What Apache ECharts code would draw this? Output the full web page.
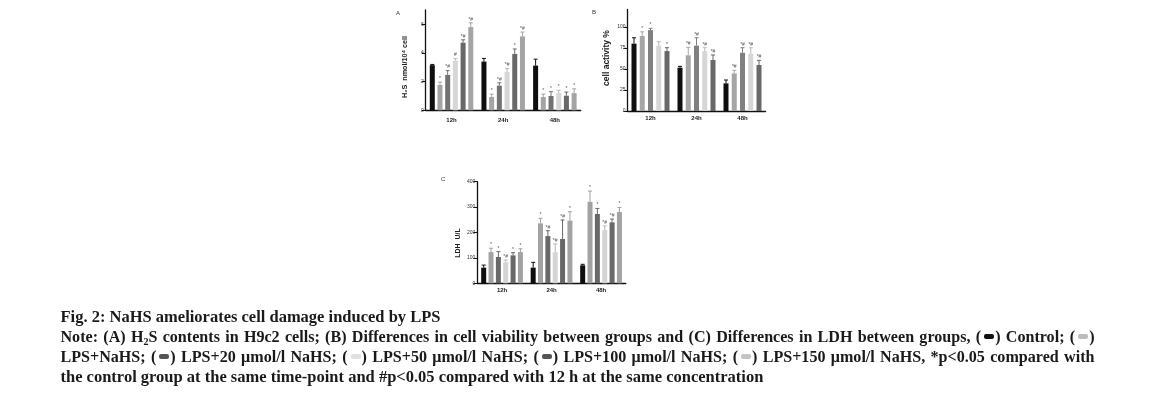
<!DOCTYPE html>
<html>
<head>
<meta charset="utf-8">
<script src="https://cdn.jsdelivr.net/npm/echarts@6/dist/echarts.min.js"></script>
<style>
  html, body { margin: 0; padding: 0; background: #fff; }
  #chart { position: absolute; left: 0; top: 0; width: 1152px; height: 394px; }
  #caption { position: absolute; left: 60.5px; top: 306.5px; width: 1034px;
    font-family: "Liberation Serif", "Times New Roman", serif; font-weight: bold;
    font-size: 16.5px; line-height: 20px; color: #1a1a1a; }
  #caption .ln { white-space: nowrap; height: 20px; }
  #caption .just { text-align: justify; text-align-last: justify; white-space: normal; font-size: 16.1px; }
  #caption sub { font-size: 10px; vertical-align: -3px; line-height: 0; }
  .sw { display: inline-block; width: 10px; height: 5px; border-radius: 2px; vertical-align: 3px; margin: 0 1px 0 3px; }
</style>
</head>
<body>
<div id="chart"></div>
<div id="caption">
  <div class="ln">Fig. 2: NaHS ameliorates cell damage induced by LPS</div>
  <div class="ln just">Note: (A) H<sub>2</sub>S contents in H9c2 cells; (B) Differences in cell viability between groups and (C) Differences in LDH between groups, (<span class="sw" style="background:#111"></span>) Control; (<span class="sw" style="background:#bdbdbd"></span>)</div>
  <div class="ln just">LPS+NaHS; (<span class="sw" style="background:#555"></span>) LPS+20 μmol/l NaHS; (<span class="sw" style="background:#e0e0e0"></span>) LPS+50 μmol/l NaHS; (<span class="sw" style="background:#555"></span>) LPS+100 μmol/l NaHS; (<span class="sw" style="background:#c4c4c4"></span>) LPS+150 μmol/l NaHS, *p&lt;0.05 compared with</div>
  <div class="ln">the control group at the same time-point and #p&lt;0.05 compared with 12 h at the same concentration</div>
</div>
<script>
// ---------- data ----------
const categories = ['12h', '24h', '48h'];
const seriesNames = ['Control', 'LPS+NaHS', 'LPS+20 μmol/l NaHS', 'LPS+50 μmol/l NaHS', 'LPS+100 μmol/l NaHS', 'LPS+150 μmol/l NaHS'];

// Panel A: H2S nmol/10^4 cell
const aControl = [3.15, 3.40, 3.12];   const aControlErr = [0.05, 0.22, 0.45];
const aNaHS    = [1.77, 0.93, 0.93];   const aNaHSErr    = [0.20, 0.20, 0.20];
const a20      = [2.47, 1.72, 1.00];   const a20Err      = [0.30, 0.20, 0.30];
const a50      = [3.47, 2.67, 1.20];   const a50Err      = [0.15, 0.25, 0.20];
const a100     = [4.72, 3.93, 1.02];   const a100Err     = [0.20, 0.35, 0.25];
const a150     = [5.81, 5.16, 1.20];   const a150Err     = [0.30, 0.30, 0.30];
const aMarks = [['', '', ''], ['*', '*', '*'], ['*#', '*#', '*'], ['#', '*#', '*'], ['*#', '*', '*'], ['*#', '*#', '*']];
const aTicks = [0, 2, 4, 6];

// Panel B: cell activity %
const bControl = [80.2, 51.6, 32.9];  const bControlErr = [7.0, 1.6, 4.0];
const bNaHS    = [89.3, 66.3, 44.8];  const bNaHSErr    = [5.0, 9.5, 3.6];
const b20      = [96.4, 77.8, 69.4];  const b20Err      = [2.0, 9.5, 6.0];
const b50      = [77.8, 71.4, 68.3];  const b50Err      = [4.7, 4.0, 7.0];
const b100     = [71.4, 60.7, 54.8];  const b100Err     = [4.0, 6.0, 5.5];
const bMarks = [['', '', ''], ['*', '*#', '*#'], ['*', '*#', '*#'], ['', '*#', '*#'], ['*', '*#', '*#']];
const bTicks = [0, 25, 50, 75, 100];

// Panel C: LDH U/L
const cControl = [61.6, 61.6, 70.8];    const cControlErr = [10, 21, 4];
const cNaHS    = [123, 236, 321];       const cNaHSErr    = [15, 20, 42];
const c20      = [103.6, 186, 272.8];   const c20Err      = [21, 21, 22];
const c50      = [82.6, 122, 209.8];    const c50Err      = [9, 33, 16];
const c100     = [110, 174.4, 240];     const c100Err     = [10.5, 75, 13];
const c150     = [123, 246.6, 280.7];   const c150Err     = [13, 35, 18];
const cMarks = [['', '', ''], ['*', '*', '*'], ['*', '*#', '*'], ['*#', '*#', '*#'], ['*', '*#', '*#'], ['*', '*', '*']];
const cTicks = [0, 100, 200, 300, 400];

// ---------- styling ----------
const colorsA = ['#0e0e0e', '#a4a4a4', '#727272', '#d6d6d6', '#686868', '#a4a4a4'];
const colorsB = ['#0e0e0e', '#a6a6a6', '#808080', '#d6d6d6', '#686868'];
const colorsC = ['#0e0e0e', '#a2a2a2', '#686868', '#d4d4d4', '#686868', '#a2a2a2'];
const FONT = '"Liberation Sans", Arial, sans-serif';

const panels = [
  { vals: [aControl, aNaHS, a20, a50, a100, a150], errs: [aControlErr, aNaHSErr, a20Err, a50Err, a100Err, a150Err],
    marks: aMarks, colors: colorsA, ticks: aTicks, max: 7, bw: 5, gap: 0.54,
    grid: { left: 425.7, top: 10, width: 155, height: 100.3 }, catMargin: 7 },
  { vals: [bControl, bNaHS, b20, b50, b100], errs: [bControlErr, bNaHSErr, b20Err, b50Err, b100Err],
    marks: bMarks, colors: colorsB, ticks: bTicks, max: 121, bw: 5, gap: 0.65,
    grid: { left: 627.5, top: 9.4, width: 138, height: 101.6 }, catMargin: 4 },
  { vals: [cControl, cNaHS, c20, c50, c100, c150], errs: [cControlErr, cNaHSErr, c20Err, c50Err, c100Err, c150Err],
    marks: cMarks, colors: colorsC, ticks: cTicks, max: 400, bw: 5, gap: 0.47,
    grid: { left: 477.3, top: 181.7, width: 148.5, height: 101.6 }, catMargin: 4 }
];

const grids = [], xAxes = [], yAxes = [], series = [];
panels.forEach((p, pi) => {
  grids.push(Object.assign({ containLabel: false }, p.grid));
  xAxes.push({
    type: 'category', gridIndex: pi, data: categories,
    axisLine: { lineStyle: { color: '#111', width: 1.3 } },
    axisTick: { show: false },
    axisLabel: { fontFamily: FONT, fontSize: 6, fontWeight: 'bold', color: '#222', margin: p.catMargin }
  });
  yAxes.push({
    type: 'value', gridIndex: pi, min: 0, max: p.max,
    splitLine: { show: false },
    axisLine: { show: true, lineStyle: { color: '#111', width: 1.3 } },
    axisTick: { show: true, length: 4, customValues: p.ticks, lineStyle: { color: '#111', width: 1 } },
    axisLabel: { fontFamily: FONT, fontSize: 5, color: '#333', margin: 2, customValues: p.ticks }
  });
  const n = p.vals.length;
  p.vals.forEach((vals, si) => {
    series.push({
      type: 'bar', name: seriesNames[si], xAxisIndex: pi, yAxisIndex: pi,
      data: vals, barWidth: p.bw, barGap: (p.gap * 100) + '%',
      itemStyle: { color: p.colors[si] }, silent: true, animation: false
    });
  });
  p.vals.forEach((vals, si) => {
    const errs = p.errs[si];
    const color = p.colors[si];
    const bw = p.bw, gap = p.gap;
    series.push({
      type: 'custom', xAxisIndex: pi, yAxisIndex: pi, silent: true, animation: false, z: 5,
      data: vals.map((v, ci) => [ci, v, errs[ci]]),
      renderItem: function (params, api) {
        const ci = api.value(0), v = api.value(1), e = api.value(2);
        const mark = p.marks[si][ci];
        const base = api.coord([ci, v]);
        const top = api.coord([ci, v + e]);
        const pitch = bw * (1 + gap);
        const total = n * bw + (n - 1) * bw * gap;
        const x = base[0] - total / 2 + si * pitch + bw / 2;
        const ec = si === 3 ? '#b8b8b8' : color;
        const children = [
          { type: 'line', shape: { x1: x, y1: base[1], x2: x, y2: top[1] }, style: { stroke: ec, lineWidth: 1 } },
          { type: 'line', shape: { x1: x - 2, y1: top[1], x2: x + 2, y2: top[1] }, style: { stroke: ec, lineWidth: 1 } }
        ];
        if (mark) {
          children.push({ type: 'text', style: { text: mark, x: x, y: top[1] - 1, align: 'center', verticalAlign: 'bottom',
            fontSize: 5, fontFamily: FONT, fill: '#555' } });
        }
        return { type: 'group', children: children };
      }
    });
  });
});

const chart = echarts.init(document.getElementById('chart'), null, { renderer: 'canvas' });
chart.setOption({
  animation: false,
  textStyle: { fontFamily: FONT },
  grid: grids, xAxis: xAxes, yAxis: yAxes, series: series,
  graphic: [
    { type: 'text', left: 396, top: 10, style: { text: 'A', fontSize: 6, fontFamily: FONT, fill: '#333' } },
    { type: 'text', left: 592, top: 9, style: { text: 'B', fontSize: 6, fontFamily: FONT, fill: '#333' } },
    { type: 'text', left: 441, top: 176, style: { text: 'C', fontSize: 6, fontFamily: FONT, fill: '#333' } },
    { type: 'text', x: 405, y: 67, rotation: Math.PI / 2,
      style: { text: 'H₂S  nmol/10⁴ cell', align: 'center', verticalAlign: 'middle', fontSize: 7.2, fontWeight: 'bold', fontFamily: FONT, fill: '#222' } },
    { type: 'text', x: 606.5, y: 58, rotation: Math.PI / 2,
      style: { text: 'cell activity %', align: 'center', verticalAlign: 'middle', fontSize: 8.5, fontWeight: 'bold', fontFamily: FONT, fill: '#222' } },
    { type: 'text', x: 458.3, y: 243, rotation: Math.PI / 2,
      style: { text: 'LDH  U/L', align: 'center', verticalAlign: 'middle', fontSize: 7, fontWeight: 'bold', fontFamily: FONT, fill: '#222' } }
  ]
});
</script>
</body>
</html>
